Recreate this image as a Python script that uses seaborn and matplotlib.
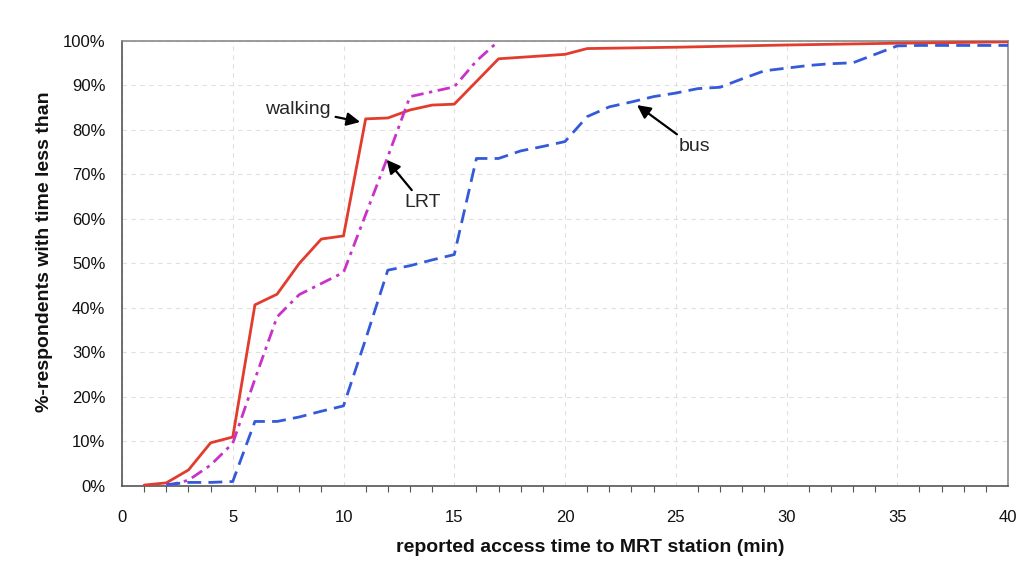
import numpy as np
import pandas as pd
import matplotlib
matplotlib.use("Agg")
import matplotlib.pyplot as plt
from matplotlib.ticker import MultipleLocator, PercentFormatter
import seaborn as sns

# Cumulative share of respondents (%) by reported access time (min)
walk_time = [1, 2, 3, 4, 5, 6, 7, 8, 9, 10, 11, 12, 13, 14, 15, 17, 20, 21, 25, 30, 35, 40]
walk_pct = [0.2, 0.7, 3.6, 9.7, 11.0, 40.7, 43.1, 50.0, 55.5, 56.2, 82.5, 82.7, 84.5, 85.6,
            85.8, 96.0, 97.0, 98.3, 98.6, 99.1, 99.5, 99.8]

lrt_time = [2, 3, 4, 5, 6, 7, 8, 9, 10, 11, 12, 13, 14, 15, 16, 17]
lrt_pct = [0.0, 1.3, 4.7, 9.6, 24.0, 38.0, 43.0, 45.5, 48.0, 61.0, 74.0, 87.5, 88.6, 89.7,
           95.5, 100.0]

bus_time = list(range(2, 41))
bus_pct = [0.3, 0.8, 0.8, 1.0, 14.5, 14.5, 15.5, 16.8, 18.0, 33.0, 48.5, 49.5, 50.8, 52.0,
           73.6, 73.6, 75.3, 76.3, 77.4, 83.0, 85.2, 86.3, 87.5, 88.3, 89.3, 89.6, 91.5,
           93.3, 93.9, 94.5, 94.9, 95.1, 97.0, 98.9, 99.0, 99.0, 99.0, 99.0, 99.0]

modes = ["walking", "LRT", "bus"]
x_ticks = list(range(0, 41, 5))
y_ticks = list(range(0, 101, 10))

df = pd.concat([
    pd.DataFrame({"time": walk_time, "pct": walk_pct, "mode": "walking"}),
    pd.DataFrame({"time": lrt_time, "pct": lrt_pct, "mode": "LRT"}),
    pd.DataFrame({"time": bus_time, "pct": bus_pct, "mode": "bus"}),
], ignore_index=True)

sns.set_theme(style="white")
plt.rcParams["font.family"] = ["Liberation Sans", "DejaVu Sans"]

fig = plt.figure(figsize=(10.22, 5.67), dpi=100)
ax = fig.add_axes([0.1194, 0.1429, 0.8669, 0.7848])

palette = {"walking": "#e23c2e", "LRT": "#c932c9", "bus": "#345ad9"}
dashes = {"walking": "", "LRT": (4.5, 2.0, 1.2, 2.0), "bus": (5.0, 2.6)}

sns.lineplot(data=df, x="time", y="pct", hue="mode", style="mode",
             hue_order=modes, style_order=modes, palette=palette, dashes=dashes,
             linewidth=2.0, legend=False, ax=ax, zorder=3)

ax.set_xlim(0, 40)
ax.set_ylim(0, 100)
ax.set_xticks(x_ticks)
ax.set_yticks(y_ticks)
ax.xaxis.set_minor_locator(MultipleLocator(1))
ax.yaxis.set_major_formatter(PercentFormatter(100, decimals=0))

ax.grid(True, which="major", color="#e0e0e0", linestyle=(0, (4, 4)), linewidth=0.8)
ax.set_axisbelow(True)

for side in ["top", "right"]:
    ax.spines[side].set_color("#8a8a8a")
    ax.spines[side].set_linewidth(1.2)
for side in ["left", "bottom"]:
    ax.spines[side].set_color("#555555")
    ax.spines[side].set_linewidth(1.2)

ax.tick_params(axis="both", which="major", direction="out", length=5, width=1,
               color="#555555", labelsize=12, labelcolor="#111111")
ax.tick_params(axis="y", which="major", pad=7)
ax.tick_params(axis="x", which="minor", direction="out", length=4, width=0.8,
               color="#555555", bottom=True)
ax.tick_params(axis="x", which="major", pad=12)

ax.set_xlabel("reported access time to MRT station (min)", fontsize=14,
              fontweight="bold", color="#111111")
ax.set_ylabel("%-respondents with time less than", fontsize=14,
              fontweight="bold", color="#111111")
ax.xaxis.label.set_va("center")
ax.yaxis.label.set_va("center")
ax.xaxis.set_label_coords(0.528, -0.139)
ax.yaxis.set_label_coords(-0.087, 0.526)

arrow = dict(arrowstyle="-|>", color="black", lw=1.6, mutation_scale=20,
             shrinkA=1, shrinkB=0)
ax.annotate("walking", xy=(10.75, 81.8), xytext=(7.95, 84.7), fontsize=14,
            ha="center", va="center", arrowprops=arrow)
ax.annotate("LRT", xy=(11.95, 73.3), xytext=(13.56, 63.6), fontsize=14,
            ha="center", va="center", arrowprops=arrow)
ax.annotate("bus", xy=(23.25, 85.6), xytext=(25.83, 76.2), fontsize=14,
            ha="center", va="center", arrowprops=arrow)

fig.savefig("out.png", dpi=100, facecolor="white")
